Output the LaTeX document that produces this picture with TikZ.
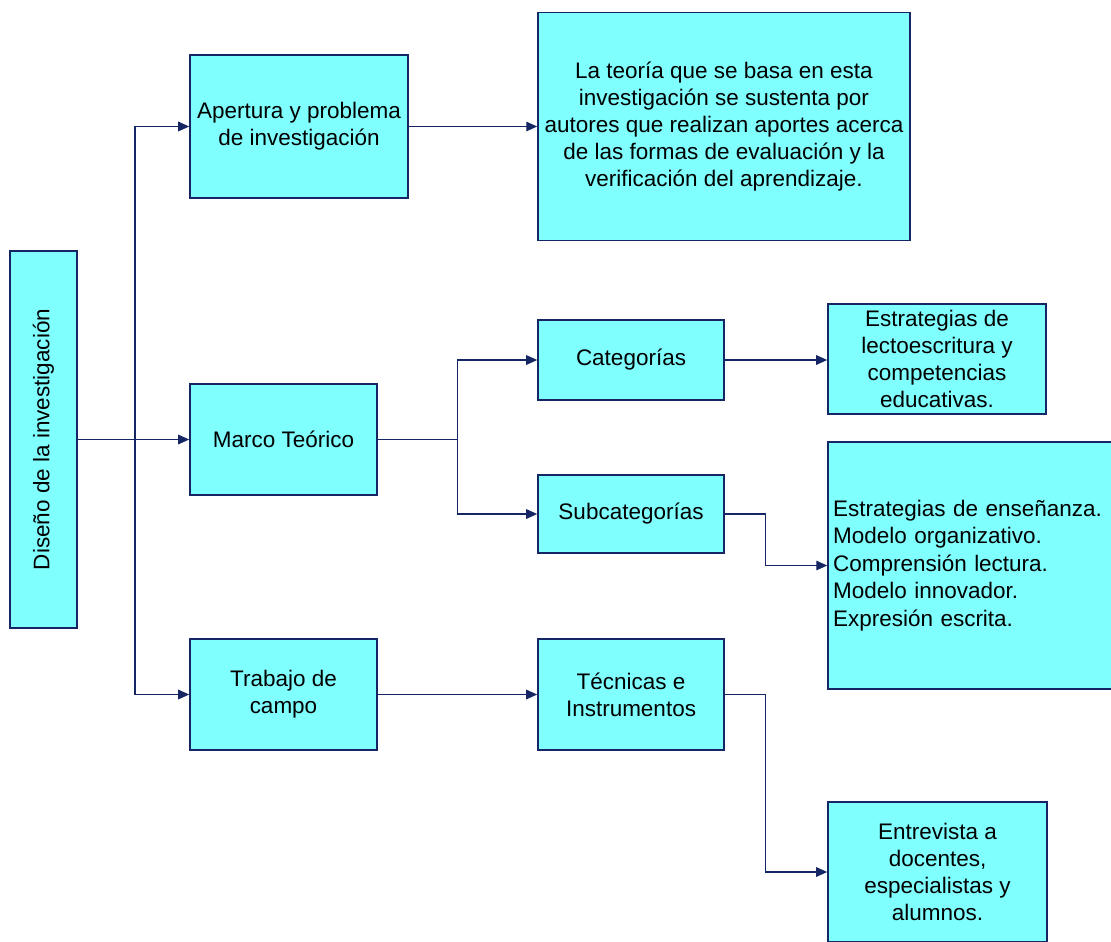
\documentclass[tikz,border=0pt]{standalone}
\usepackage{fontspec}
\setmainfont{Liberation Sans}
\usetikzlibrary{arrows.meta,positioning}
\definecolor{boxFill}{RGB}{128,255,255}
\definecolor{penColor}{RGB}{22,38,100}
\tikzset{>={Triangle[length=2.2mm,width=1.9mm]}}
\tikzset{
  box/.style={draw=penColor, fill=boxFill, line width=0.9pt, inner xsep=2pt, inner ysep=1pt,
    align=center, font=\fontsize{12.8}{15.3}\selectfont},
  link/.style={->, draw=penColor, line width=0.8pt}
}

\begin{document}
\begin{tikzpicture}[x=0.02cm,y=-0.02cm]
      \useasboundingbox (0,0) rectangle (1111,941);
      % first column
      \node[box, minimum width=1.34cm, minimum height=7.54cm] (diseno) at (43.5,439.5)
        {\rotatebox{90}{Diseño de la investigación}};
      % second column
      \node[box, minimum width=4.36cm, minimum height=2.86cm] (apertura) at (299,126.5)
        {Apertura y problema\\ de investigación};
      \node[box, minimum width=3.74cm, minimum height=2.22cm] (marco) at (283.5,439.5)
        {Marco Teórico};
      \node[box, minimum width=3.74cm, minimum height=2.22cm] (trabajo) at (283.5,694.5)
        {Trabajo de\\ campo};
      % third column
      \node[box, minimum width=7.44cm, minimum height=4.56cm] (teoria) at (724,126.5)
        {La teoría que se basa en esta\\ investigación se sustenta por\\ autores que realizan aportes acerca\\ de las formas de evaluación y la\\ verificación del aprendizaje.};
      \node[box, minimum width=3.72cm, minimum height=1.6cm] (categorias) at (631,360)
        {Categorías};
      \node[box, minimum width=3.72cm, minimum height=1.56cm] (subcat) at (631,514)
        {Subcategorías};
      \node[box, minimum width=3.72cm, minimum height=2.22cm] (tecnicas) at (631,694.5)
        {Técnicas e\\ Instrumentos};
      % fourth column
      \node[box, minimum width=4.36cm, minimum height=2.2cm] (lecto) at (937,359)
        {Estrategias de\\ lectoescritura y\\ competencias\\ educativas.};
      \node[box, align=left, text width=5.6cm, inner xsep=0.1cm, minimum height=4.94cm,
        font=\fontsize{12.8}{15.6}\selectfont] (ensenanza) at (973,565.5)
        {Estrategias de enseñanza.\\ Modelo organizativo.\\ Comprensión lectura.\\ Modelo innovador.\\ Expresión escrita.};
      \node[box, minimum width=4.38cm, minimum height=2.8cm] (entrevista) at (937.5,872)
        {Entrevista a\\ docentes,\\ especialistas y\\ alumnos.};
      % connectors
      \coordinate (trunk) at (135,0);
      \draw[link] (diseno.east) -- (marco.west);
      \draw[link] (trunk |- marco.west) |- (apertura.west);
      \draw[link] (trunk |- marco.west) |- (trabajo.west);
      \draw[link] (apertura.east) -- (apertura.east -| teoria.west);
      \draw[link] (marco.east) -- ++(80,0) |- (categorias.west);
      \draw[link] (marco.east) -- ++(80,0) |- (subcat.west);
      \draw[link] (categorias.east) -- (categorias.east -| lecto.west);
      \draw[link] (subcat.east) -- ++(41,0) |- (ensenanza.west);
      \draw[link] (trabajo.east) -- (tecnicas.west);
      \draw[link] (tecnicas.east) -- ++(41,0) |- (entrevista.west);
    \end{tikzpicture}
\end{document}
